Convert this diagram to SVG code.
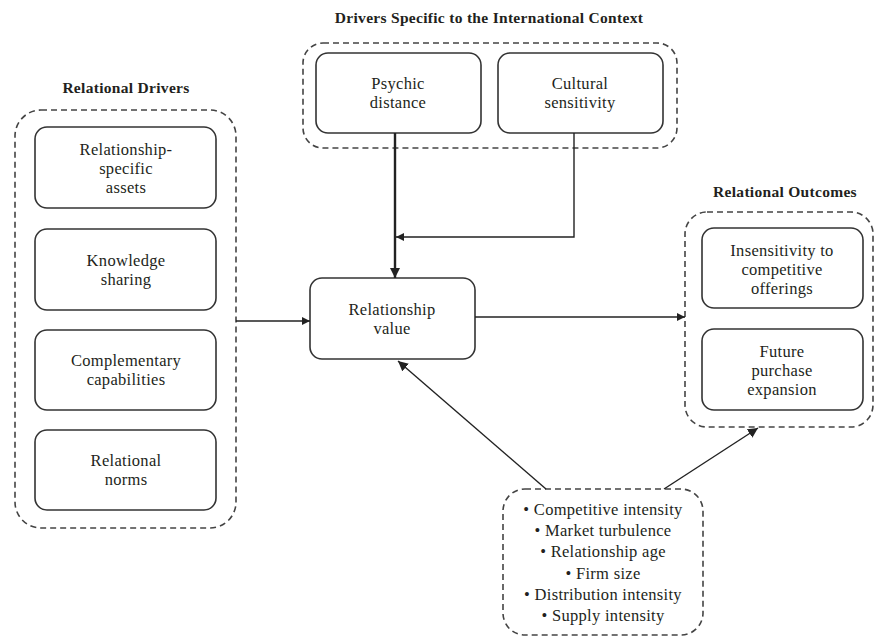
<svg xmlns="http://www.w3.org/2000/svg" width="876" height="637" viewBox="0 0 876 637">
<defs>
<style>
text{font-family:"Liberation Serif","Times New Roman",serif;font-size:16.5px;letter-spacing:0.3px;fill:#231f20;text-anchor:middle}
.t{font-weight:bold;font-size:15.5px}
.box{fill:#fff;stroke:#333;stroke-width:1.6}
.grp{fill:none;stroke:#444;stroke-width:1.6;stroke-dasharray:6 4}
.ln{fill:none;stroke:#222;stroke-width:1.4}
</style>
<marker id="ah" viewBox="0 0 10 10" refX="10" refY="5" markerWidth="8" markerHeight="8" markerUnits="userSpaceOnUse" orient="auto"><path d="M0,0 L10,5 L0,10 z" fill="#222"/></marker>
<marker id="ah2" viewBox="0 0 10 10" refX="10" refY="5" markerWidth="10" markerHeight="10" markerUnits="userSpaceOnUse" orient="auto"><path d="M0,0 L10,5 L0,10 z" fill="#222"/></marker>
</defs>
<g id="relational-drivers">
<text class="t" x="126" y="93">Relational Drivers</text>
<rect class="grp" x="15" y="110" width="221" height="418" rx="26"/>
</g>
<g id="rs-assets"><rect class="box" x="35" y="127" width="181" height="81" rx="12"/><text x="126" y="155">Relationship-</text><text x="126" y="174">specific</text><text x="126" y="193">assets</text></g>
<g id="knowledge"><rect class="box" x="35" y="229" width="181" height="81" rx="12"/><text x="126" y="266">Knowledge</text><text x="126" y="285">sharing</text></g>
<g id="complementary"><rect class="box" x="35" y="330" width="181" height="80" rx="12"/><text x="126" y="366">Complementary</text><text x="126" y="385">capabilities</text></g>
<g id="norms"><rect class="box" x="35" y="430" width="181" height="80" rx="12"/><text x="126" y="466">Relational</text><text x="126" y="485">norms</text></g>

<g id="international">
<text class="t" x="489" y="23">Drivers Specific to the International Context</text>
<rect class="grp" x="303" y="43" width="374" height="105" rx="20"/>
</g>
<g id="psychic"><rect class="box" x="316" y="53" width="165" height="80" rx="12"/><text x="398" y="89">Psychic</text><text x="398" y="108">distance</text></g>
<g id="cultural"><rect class="box" x="498" y="53" width="165" height="80" rx="12"/><text x="580" y="89">Cultural</text><text x="580" y="108">sensitivity</text></g>

<g id="value"><rect class="box" x="310" y="278" width="165" height="81" rx="12"/><text x="392" y="315">Relationship</text><text x="392" y="334">value</text></g>

<g id="relational-outcomes">
<text class="t" x="785" y="197">Relational Outcomes</text>
<rect class="grp" x="685" y="212" width="188" height="215" rx="22"/>
</g>
<g id="insensitivity"><rect class="box" x="702" y="228" width="161" height="80" rx="12"/><text x="782" y="256">Insensitivity to</text><text x="782" y="275">competitive</text><text x="782" y="294">offerings</text></g>
<g id="future"><rect class="box" x="702" y="329" width="161" height="81" rx="12"/><text x="782" y="357">Future</text><text x="782" y="376">purchase</text><text x="782" y="395">expansion</text></g>

<g id="moderators">
<rect class="grp" x="503" y="489" width="200" height="146" rx="22"/>
<text x="603" y="515">• Competitive intensity</text>
<text x="603" y="536">• Market turbulence</text>
<text x="603" y="557">• Relationship age</text>
<text x="603" y="579">• Firm size</text>
<text x="603" y="600">• Distribution intensity</text>
<text x="603" y="621">• Supply intensity</text>
</g>

<g id="connectors">
<line class="ln" x1="236" y1="321" x2="310" y2="321" marker-end="url(#ah)"/>
<line class="ln" x1="395" y1="133" x2="395" y2="278" style="stroke-width:2.4" marker-end="url(#ah2)"/>
<polyline class="ln" points="574,133 574,237 396,237" marker-end="url(#ah)"/>
<line class="ln" x1="475" y1="317" x2="685" y2="317" marker-end="url(#ah)"/>
<line class="ln" x1="546" y1="489" x2="398" y2="361" marker-end="url(#ah2)"/>
<line class="ln" x1="664" y1="489" x2="758" y2="428" marker-end="url(#ah2)"/>
</g>
</svg>
